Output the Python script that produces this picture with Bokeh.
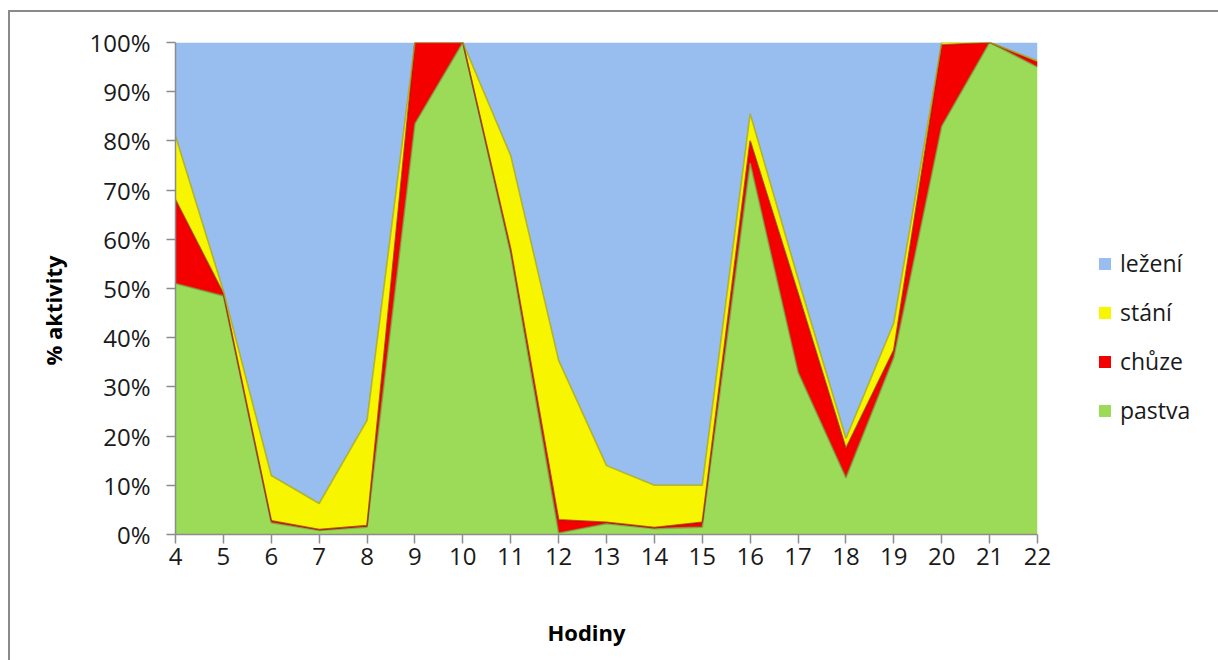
from bokeh.plotting import figure
from bokeh.models import (ColumnDataSource, Legend, LegendItem, SingleIntervalTicker,
                          PrintfTickFormatter, Range1d, Title, InlineStyleSheet)
from bokeh.embed import file_html
from bokeh.resources import INLINE

# Hourly activity shares (%) of grazing animals, stacked to 100 %
hours = [4, 5, 6, 7, 8, 9, 10, 11, 12, 13, 14, 15, 16, 17, 18, 19, 20, 21, 22]
pastva = [51, 48.5, 2.4, 0.8, 1.5, 83.5, 100, 57, 0.3, 2.2, 1.2, 1.5, 75.5, 33, 11.5, 36, 83, 100, 95]
chuze = [17, 0.5, 0.4, 0.2, 0.3, 16.5, 0, 1, 2.7, 0.3, 0.2, 1, 4.5, 16, 6, 1.5, 16.5, 0, 1]
stani = [13, 0.5, 9.2, 5.3, 21.4, 0, 0, 19, 32.4, 11.5, 8.6, 7.5, 5.5, 3, 2, 5.5, 0.5, 0, 0.3]
lezeni = [round(100 - a - b - c, 2) for a, b, c in zip(pastva, chuze, stani)]

series = ["pastva", "chuze", "stani", "lezeni"]
labels = {"pastva": "pastva", "chuze": "chůze", "stani": "stání", "lezeni": "ležení"}
fills = {"pastva": "#9BDB58", "chuze": "#F50000", "stani": "#F7F500", "lezeni": "#97BEEE"}
edges = {"pastva": "#6E9E3C", "chuze": "#9E1010", "stani": "#A8A400", "lezeni": "#6F8FB8"}

source = ColumnDataSource(dict(hours=hours, pastva=pastva, chuze=chuze, stani=stani, lezeni=lezeni))

FONT = "Open Sans"
TXT = "#1A1A1A"
AXIS = "#8C8C8C"

# keep the chart at window size and draw a thin grey frame around it
frame_css = InlineStyleSheet(css="""
:host { position: relative; width: 1218px !important; height: 660px !important; overflow: hidden; }
:host::after {
  content: ""; position: absolute; left: 8px; top: 10px; right: -20px; bottom: -20px;
  border-left: 2px solid #8A8A8A; border-top: 2px solid #8A8A8A;
  pointer-events: none; z-index: 10;
}
""")

p = figure(frame_width=862, frame_height=492, output_backend="svg", toolbar_location=None,
           x_range=Range1d(4, 22), y_range=Range1d(0, 100),
           min_border_left=175, min_border_right=181, min_border_top=42, min_border_bottom=126,
           stylesheets=[frame_css])
p.outline_line_color = None
p.xgrid.visible = False
p.ygrid.visible = False
p.background_fill_color = "white"
p.border_fill_color = "white"

renderers = p.varea_stack(series, x="hours", source=source,
                          color=[fills[s] for s in series])

# darker rim along the top of each stacked layer
cum = [0.0] * len(hours)
for s, vals in zip(series, [pastva, chuze, stani, lezeni]):
    cum = [c + v for c, v in zip(cum, vals)]
    if s != "lezeni":
        p.line(hours, cum, line_color=edges[s], line_width=1.6, line_alpha=0.7)

# axes
p.xaxis.ticker = SingleIntervalTicker(interval=1)
p.yaxis.ticker = SingleIntervalTicker(interval=10)
p.yaxis.formatter = PrintfTickFormatter(format="%d%%")
for ax in (p.xaxis[0], p.yaxis[0]):
    ax.axis_line_color = AXIS
    ax.axis_line_width = 1.5
    ax.major_tick_line_color = AXIS
    ax.major_tick_line_width = 1.5
    ax.major_tick_in = 0
    ax.major_tick_out = 9
    ax.minor_tick_line_color = None
    ax.major_label_text_font = FONT
    ax.major_label_text_font_size = "24px"
    ax.major_label_text_color = TXT
    ax.axis_label_text_font = FONT
    ax.axis_label_text_font_size = "22px"
    ax.axis_label_text_font_style = "bold"
    ax.axis_label_text_color = "black"

p.yaxis.major_label_standoff = 16
p.xaxis.major_label_standoff = 4
# trailing no-break spaces nudge the centred title a little to the left
p.xaxis.axis_label = "Hodiny" + "\u00a0" * 7
p.xaxis.axis_label_standoff = 49

p.add_layout(Title(text="% aktivity", align="left", offset=169, standoff=38,
                   text_font=FONT, text_font_size="22px", text_font_style="bold",
                   text_color="black"), "left")

items = [LegendItem(label=labels[s], renderers=[renderers[series.index(s)]])
         for s in ["lezeni", "stani", "chuze", "pastva"]]
legend = Legend(items=items, location=(60, 108), orientation="vertical",
                padding=0, margin=0, spacing=17,
                glyph_width=15, glyph_height=15, label_height=22, label_standoff=8,
                label_text_font=FONT, label_text_font_size="23px", label_text_color=TXT,
                border_line_color=None, background_fill_alpha=0)
p.add_layout(legend, "right")

open("out.html", "w").write(file_html(p, INLINE))
